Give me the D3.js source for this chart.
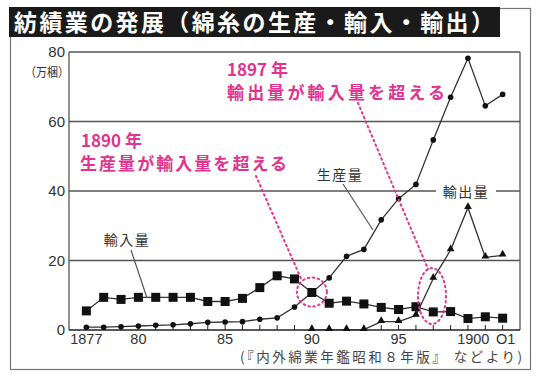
<!DOCTYPE html>
<html><head><meta charset="utf-8">
<script src="https://cdn.jsdelivr.net/npm/d3@7"></script>
<style>
html,body{margin:0;padding:0;background:#fff;}
svg{display:block;font-family:"Noto Sans CJK JP","Liberation Sans",sans-serif;}
</style></head>
<body>
<script>
const years = [1877,1878,1879,1880,1881,1882,1883,1884,1885,1886,1887,1888,1889,1890,1891,1892,1893,1894,1895,1896,1897,1898,1899,1900,1901];
const importVals = [5.5,9.4,8.8,9.4,9.4,9.4,9.4,8.2,8.2,9.1,12.2,15.6,14.7,10.8,7.7,8.3,7.5,6.5,5.9,6.7,5.2,5.3,3.3,3.8,3.4];
const productionVals = [0.8,0.8,0.95,1.15,1.35,1.5,1.8,2.2,2.3,2.4,3.1,3.5,6.6,10.8,15.0,21.2,23.2,31.7,37.8,41.9,54.7,67.0,78.2,64.5,67.8];
const exportYears = [1890,1891,1892,1893,1894,1895,1896,1897,1898,1899,1900,1901];
const exportVals = [0.1,0.1,0.1,0.1,2.4,2.4,4.2,14.8,23.0,35.2,20.9,21.5];
const yTicks = [0,20,40,60,80];
const xLabelYears = [1877,1880,1885,1890,1895,1900,1901];
const xLabelText = ["1877","80","85","90","95","1900","O1"];

const W=540,H=380;
const svg=d3.select("body").append("svg").attr("width",W).attr("height",H);
const x=d3.scaleLinear().domain([1876,1902]).range([69,520]);
const y=d3.scaleLinear().domain([0,80]).range([330,52]);
const pink="#e2338f", ink="#222", grid="#555";

// outer frame
svg.append("rect").attr("x",10.5).attr("y",8.5).attr("width",520).attr("height",361)
  .attr("fill","none").attr("stroke","#777").attr("stroke-width",1.2);
// title bar
svg.append("rect").attr("x",9).attr("y",7).attr("width",491).attr("height",30).attr("fill","#1a1a1a");
svg.append("text").attr("x",14).attr("y",31).attr("fill","#fff").attr("font-size",23).attr("font-weight","bold")
  .attr("textLength",480).attr("lengthAdjust","spacing")
  .text("紡績業の発展（綿糸の生産・輸入・輸出）");

// gridlines
svg.append("g").selectAll("line").data(yTicks.filter(d=>d>0)).join("line")
  .attr("x1",69).attr("x2",520).attr("y1",d=>y(d)).attr("y2",d=>y(d))
  .attr("stroke",grid).attr("stroke-width",1.3);
// plot box sides + bottom
svg.append("line").attr("x1",69).attr("x2",69).attr("y1",y(80)).attr("y2",y(0)).attr("stroke",grid).attr("stroke-width",1.3);
svg.append("line").attr("x1",520).attr("x2",520).attr("y1",y(80)).attr("y2",y(0)).attr("stroke",grid).attr("stroke-width",1.3);
svg.append("line").attr("x1",69).attr("x2",520).attr("y1",y(0)).attr("y2",y(0)).attr("stroke",ink).attr("stroke-width",1.5);

// y labels
svg.append("g").selectAll("text").data(yTicks).join("text")
  .attr("x",65).attr("y",d=>y(d)+5).attr("text-anchor","end").attr("font-size",15)
  .attr("fill","#333").attr("font-family","Liberation Sans, Arial, sans-serif").text(d=>d);
svg.append("text").attr("x",69).attr("y",77).attr("text-anchor","end").attr("font-size",12.5).attr("fill","#333")
  .attr("textLength",44).attr("lengthAdjust","spacingAndGlyphs").text("（万梱）");

// x ticks (inside, upward)
svg.append("g").selectAll("line").data(years).join("line")
  .attr("x1",d=>x(d)).attr("x2",d=>x(d)).attr("y1",y(0)).attr("y2",y(0)-5)
  .attr("stroke",ink).attr("stroke-width",1);
// x labels
const xShift={1900:-12,1901:3};
svg.append("g").selectAll("text").data(xLabelYears).join("text")
  .attr("x",d=>x(d)+(xShift[d]||0)).attr("y",344).attr("text-anchor","middle")
  .attr("font-size",14.5).attr("fill","#333").attr("font-family","Liberation Sans, Arial, sans-serif")
  .text((d,i)=>xLabelText[i]);
// source
svg.append("text").attr("x",522).attr("y",362).attr("text-anchor","end").attr("font-size",13.5)
  .attr("fill","#444").attr("textLength",282).attr("lengthAdjust","spacing").text("(『内外綿業年鑑昭和８年版』 などより)");

// lines
const line=d3.line().x(d=>x(d[0])).y(d=>y(d[1]));
const impData=years.map((yr,i)=>[yr,importVals[i]]);
const prodData=years.map((yr,i)=>[yr,productionVals[i]]);
const expData=exportYears.map((yr,i)=>[yr,exportVals[i]]);
[impData,prodData,expData].forEach(dat=>{
  svg.append("path").attr("d",line(dat)).attr("fill","none").attr("stroke","#333").attr("stroke-width",1.3);
});
// markers
svg.append("g").selectAll("rect").data(impData).join("rect")
  .attr("x",d=>x(d[0])-4.5).attr("y",d=>y(d[1])-4.5).attr("width",9).attr("height",9).attr("fill","#111");
svg.append("g").selectAll("circle").data(prodData).join("circle")
  .attr("cx",d=>x(d[0])).attr("cy",d=>y(d[1])).attr("r",2.8).attr("fill","#111");
const tri=d3.symbol().type(d3.symbolTriangle).size(26);
svg.append("g").selectAll("path").data(expData).join("path")
  .attr("transform",d=>`translate(${x(d[0])},${y(d[1])-1})`).attr("d",tri).attr("fill","#111");

// series labels
function seriesLabel(t,cx,cy,bg){
  if(bg) svg.append("rect").attr("x",cx-30).attr("y",cy-10).attr("width",60).attr("height",20).attr("fill","#fff");
  svg.append("text").attr("x",cx).attr("y",cy+5).attr("text-anchor","middle").attr("font-size",14)
    .attr("fill","#333").attr("letter-spacing",1.5).text(t);
}
seriesLabel("輸入量",127,240,false);
svg.append("line").attr("x1",131).attr("y1",250).attr("x2",147).attr("y2",298).attr("stroke","#555").attr("stroke-width",1.2);
seriesLabel("生産量",340,175,false);
svg.append("line").attr("x1",343).attr("y1",184).attr("x2",373).attr("y2",230).attr("stroke","#555").attr("stroke-width",1.2);
seriesLabel("輸出量",466,192,true);

// annotations
svg.append("text").attr("x",81).attr("y",147).attr("font-size",17).attr("font-weight","bold").attr("fill",pink).text("1890 年");
svg.append("text").attr("x",80).attr("y",170).attr("font-size",17).attr("font-weight","bold").attr("fill",pink)
  .attr("textLength",207).attr("lengthAdjust","spacing").text("生産量が輸入量を超える");
svg.append("text").attr("x",227).attr("y",76).attr("font-size",17).attr("font-weight","bold").attr("fill",pink).text("1897 年");
svg.append("text").attr("x",227).attr("y",99).attr("font-size",17).attr("font-weight","bold").attr("fill",pink)
  .attr("textLength",218).attr("lengthAdjust","spacing").text("輸出量が輸入量を超える");

const dots={stroke:pink,"stroke-width":2,"stroke-dasharray":"1.5,3.5","stroke-linecap":"round",fill:"none"};
function applyDots(sel){Object.entries(dots).forEach(([k,v])=>sel.attr(k,v));return sel;}
applyDots(svg.append("line").attr("x1",256).attr("y1",176).attr("x2",302).attr("y2",281));
applyDots(svg.append("line").attr("x1",358).attr("y1",103).attr("x2",428).attr("y2",269));
applyDots(svg.append("ellipse").attr("cx",x(1890)).attr("cy",292).attr("rx",15).attr("ry",14.5));
applyDots(svg.append("ellipse").attr("cx",432).attr("cy",296).attr("rx",14).attr("ry",28));
</script>
</body></html>
